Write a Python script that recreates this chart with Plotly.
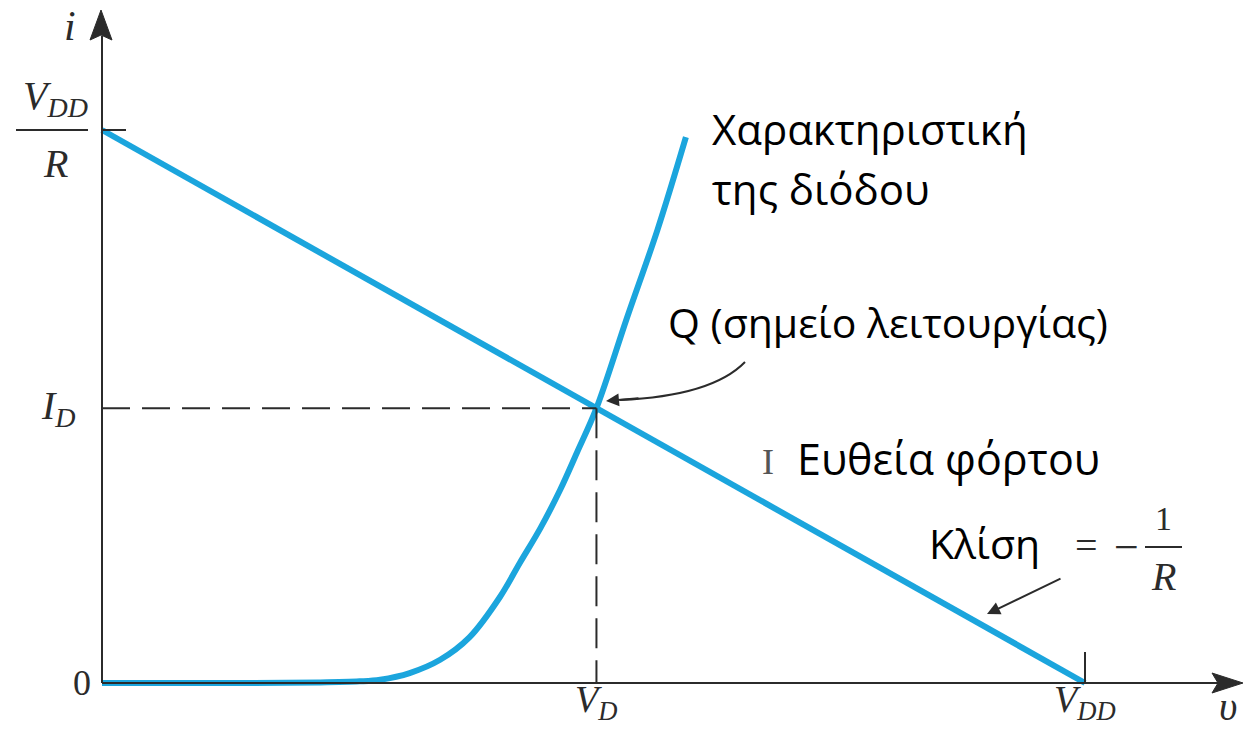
import plotly.graph_objects as go

# Circuit quantities (normalised units: VDD = 10, R = 1)
VDD = 10.0
R = 1.0
VD = 5.03
ID = VDD / R - VD / R

# Diode characteristic i(v)
v_diode = [0.0, 1.5, 2.2, 2.62, 2.83, 3.13, 3.44, 3.74, 4.05, 4.25, 4.46, 4.66, 4.83,
           5.03, 5.34, 5.65, 5.94]
i_diode = [0.0, 0.0, 0.01, 0.03, 0.06, 0.18, 0.42, 0.83, 1.56, 2.17, 2.80, 3.49, 4.16,
           4.97, 6.60, 8.19, 9.87]

# Load line endpoints
v_load = [0.0, VDD]
i_load = [VDD / R, 0.0]

BLUE = "#1ba5dd"
INK = "#2b2b2b"
W, H = 1256, 730

# pixel <-> data helpers for the page layout
X0PX, XS = 102.0, 98.3
Y0PX, YS = 683.0, 55.3


def dx(px):
    return (px - X0PX) / XS


def dy(py):
    return (Y0PX - py) / YS


fig = go.Figure()

fig.add_trace(go.Scatter(x=v_load, y=i_load, mode="lines",
                         line=dict(color=BLUE, width=6), hoverinfo="skip"))
fig.add_trace(go.Scatter(x=v_diode, y=i_diode, mode="lines",
                         line=dict(color=BLUE, width=6, shape="spline", smoothing=1.0),
                         hoverinfo="skip"))

shapes = []
# axes
shapes.append(dict(type="line", x0=0, x1=0, y0=0, y1=dy(36), line=dict(color=INK, width=2)))
shapes.append(dict(type="line", x0=0, x1=dx(1218), y0=0, y1=0, line=dict(color=INK, width=2)))
# arrowheads
shapes.append(dict(type="path",
                   path=f"M {dx(101)},{dy(10)} L {dx(90)},{dy(40)} L {dx(101)},{dy(35)} L {dx(112)},{dy(40)} Z",
                   fillcolor=INK, line=dict(color=INK, width=1)))
shapes.append(dict(type="path",
                   path=f"M {dx(1243)},{dy(683)} L {dx(1212)},{dy(673)} L {dx(1218)},{dy(683)} L {dx(1212)},{dy(693)} Z",
                   fillcolor=INK, line=dict(color=INK, width=1)))
# ticks
shapes.append(dict(type="line", x0=0, x1=dx(126), y0=VDD / R, y1=VDD / R, line=dict(color=INK, width=2)))
shapes.append(dict(type="line", x0=VDD, x1=VDD, y0=0, y1=dy(652), line=dict(color=INK, width=2)))
# operating point projections
shapes.append(dict(type="line", x0=0, x1=VD, y0=ID, y1=ID,
                   line=dict(color=INK, width=2, dash="28px,12px")))
shapes.append(dict(type="line", x0=VD, x1=VD, y0=ID, y1=0,
                   line=dict(color=INK, width=2, dash="30px,12px")))
# fraction bars
shapes.append(dict(type="line", x0=dx(16), x1=dx(88), y0=VDD / R, y1=VDD / R, line=dict(color=INK, width=2)))
shapes.append(dict(type="line", x0=dx(1145), x1=dx(1182), y0=dy(547), y1=dy(547), line=dict(color=INK, width=2)))
# curved pointer to Q
shapes.append(dict(type="path",
                   path=f"M {dx(745)},{dy(362)} Q {dx(712)},{dy(396)} {dx(620)},{dy(400)}",
                   line=dict(color=INK, width=2)))

ann = []


def label(x, y, text, size=40, family="Liberation Serif", xanchor="center", color=INK):
    ann.append(dict(x=x, y=y, text=text, showarrow=False, xanchor=xanchor, yanchor="middle",
                    font=dict(family=family, size=size, color=color)))


# axis labels
label(dx(70), dy(26), "<i>i</i>", size=42)
label(dx(1228), dy(706), "<i>υ</i>")
label(dx(82), 0, "0", size=36)
label(dx(55), dy(98), "<i>V</i><sub><i>DD</i></sub>")
label(dx(55), dy(163), "<i>R</i>")
label(dx(58), ID, "<i>I</i><sub><i>D</i></sub>")
label(VD, dy(702), "<i>V</i><sub><i>D</i></sub>", size=38)
label(VDD, dy(702), "<i>V</i><sub><i>DD</i></sub>", size=38)

# Greek annotations
GF = "Open Sans"
label(dx(710), dy(128), "Χαρακτηριστική", size=42, family=GF, xanchor="left", color="black")
label(dx(710), dy(188), "της διόδου", size=42, family=GF, xanchor="left", color="black")
label(dx(666), dy(322), "Q (σημείο λειτουργίας)", size=41, family=GF, xanchor="left", color="black")
label(dx(768), dy(462), "I", size=36, color="#555555")
label(dx(795), dy(458), "Ευθεία φόρτου", size=43, family=GF, xanchor="left", color="black")
label(dx(927), dy(543), "Κλίση", size=41, family=GF, xanchor="left", color="black")
label(dx(1086), dy(545), "=", size=40)
label(dx(1126), dy(547), "−", size=44)
label(dx(1163), dy(518), "1", size=34)
label(dx(1163), dy(576), "<i>R</i>", size=40)

# arrowheads of the pointers
ann.append(dict(x=dx(606), y=dy(401), ax=dx(640), ay=dy(398), axref="x", ayref="y",
                text="", showarrow=True, arrowhead=2, arrowsize=1.3, arrowwidth=2, arrowcolor=INK))
ann.append(dict(x=dx(987), y=dy(614), ax=dx(1062), ay=dy(578), axref="x", ayref="y",
                text="", showarrow=True, arrowhead=2, arrowsize=1.3, arrowwidth=2, arrowcolor=INK))

fig.update_layout(
    width=W, height=H, autosize=False,
    margin=dict(l=0, r=0, t=0, b=0),
    paper_bgcolor="white", plot_bgcolor="white",
    showlegend=False,
    xaxis=dict(visible=False, range=[dx(0), dx(W)], fixedrange=True),
    yaxis=dict(visible=False, range=[dy(H), dy(0)], fixedrange=True),
    shapes=shapes, annotations=ann,
)

fig.write_html("out.html", config={"displayModeBar": False})
